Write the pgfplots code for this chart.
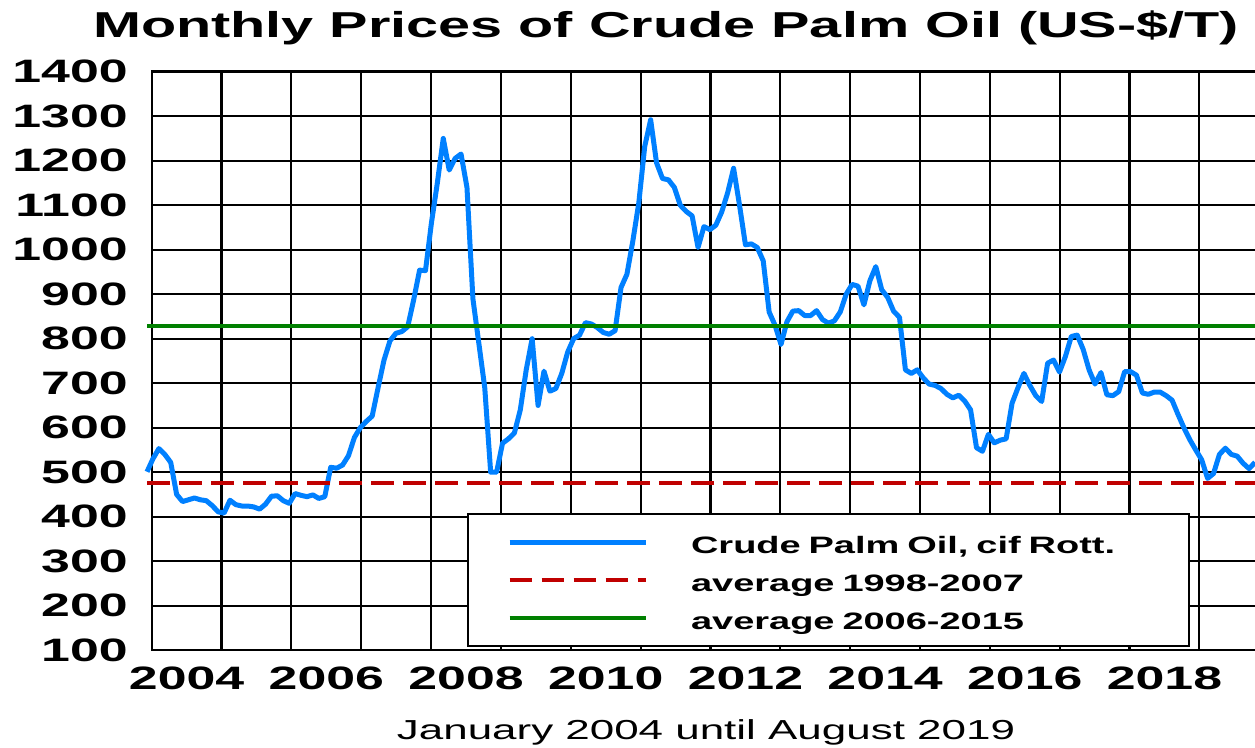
\documentclass[border=0pt]{standalone}
\usepackage{fontspec}
\setmainfont{Liberation Sans}
\newfontfamily\wide{Liberation Sans}[FakeStretch=1.6]
\usepackage{pgfplots}
\usepackage{pgfplotstable}
\pgfplotsset{compat=1.18}
\definecolor{cpoblue}{RGB}{0,128,255}
\definecolor{avgred}{RGB}{192,0,0}
\definecolor{avggreen}{RGB}{0,128,0}

\pgfplotstableread{
i price
0 501
1 530
2 553
3 540
4 522
5 450
6 434
7 438
8 442
9 438
10 436
11 425
12 411
13 408
14 437
15 427
16 424
17 424
18 422
19 417
20 428
21 446
22 447
23 436
24 430
25 452
26 448
27 445
28 449
29 441
30 445
31 511
32 509
33 516
34 537
35 578
36 600
37 614
38 626
39 690
40 752
41 795
42 812
43 816
44 827
45 887
46 954
47 953
48 1060
49 1150
50 1250
51 1179
52 1205
53 1215
54 1140
55 890
56 790
57 690
58 500
59 500
60 565
61 575
62 588
63 640
64 730
65 800
66 650
67 727
68 682
69 688
70 722
71 770
72 800
73 808
74 836
75 833
76 825
77 814
78 810
79 818
80 915
81 945
82 1020
83 1105
84 1232
85 1292
86 1195
87 1160
88 1157
89 1140
90 1100
91 1086
92 1076
93 1005
94 1052
95 1045
96 1055
97 1085
98 1128
99 1183
100 1100
101 1011
102 1013
103 1005
104 975
105 860
106 830
107 787
108 838
109 862
110 863
111 852
112 852
113 863
114 843
115 835
116 840
117 860
118 900
119 922
120 918
121 876
122 930
123 962
124 910
125 893
126 862
127 848
128 730
129 722
130 730
131 712
132 698
133 695
134 688
135 675
136 667
137 673
138 660
139 640
140 555
141 547
142 585
143 566
144 572
145 575
146 655
147 690
148 722
149 695
150 672
151 659
152 745
153 752
154 725
155 760
156 805
157 808
158 776
159 730
160 698
161 724
162 674
163 672
164 681
165 726
166 726
167 718
168 678
169 675
170 680
171 680
172 672
173 662
174 630
175 600
176 573
177 550
178 528
179 486
180 497
181 540
182 554
183 540
184 536
185 520
186 508
187 522
}\cpo

\begin{document}
\begin{tikzpicture}
\begin{axis}[
  at={(113.775pt,73.35pt)}, anchor=south west,
  scale only axis, width=838.125pt, height=433.875pt,
  xmin=0.79, xmax=189.4, ymin=100, ymax=1400,
  clip=false,
  xtick={6.69,30.27,53.84,77.42,101.0,124.57,148.15,171.72},
  xticklabels={2004,2006,2008,2010,2012,2014,2016,2018},
  minor xtick={0.79,12.578,24.366,36.154,47.942,59.73,71.518,83.306,95.094,106.882,118.67,130.458,142.246,154.034,165.822,177.61},
  ytick={100,200,...,1400},
  /pgf/number format/1000 sep={},
  /pgf/number format/assume math mode=true,
  xmajorgrids=false, xminorgrids=true, ymajorgrids=true,
  major grid style={black, line width=1.6pt},
  minor grid style={black, line width=1.6pt},
  axis line style={black, line width=1.8pt},
  major tick length=0pt, minor tick length=0pt,
  tick style={draw=none},
  xticklabel style={font=\wide\bfseries\fontsize{24.3pt}{26pt}\selectfont, anchor=base, yshift=-29.85pt, inner sep=0pt},
  yticklabel style={font=\wide\bfseries\fontsize{24.3pt}{26pt}\selectfont, anchor=east, xshift=-17.78pt, inner sep=0pt},
  title={Monthly Prices of Crude Palm Oil (US-\$/T)},
  title style={at={(axis description cs:0.4602,1.046)}, anchor=base, inner sep=0pt, font=\wide\bfseries\fontsize{27pt}{30pt}\selectfont},
  xlabel={January 2004 until August 2019},
  xlabel style={at={(axis description cs:0.496,-0.1552)}, anchor=base, inner sep=0pt, font=\wide\fontsize{20.6pt}{23pt}\selectfont},
  legend cell align=left,
  legend image code/.code={\draw[#1] (0pt,0pt) -- (102pt,0pt);},
  legend style={at={(axis description cs:0.2822,0.2366)}, anchor=north west,
    draw=black, line width=1.5pt, fill=white,
    inner xsep=29.25pt, inner ysep=7.1pt, column sep=32.25pt, row sep=0.75pt,
    font=\wide\bfseries\fontsize{17.8pt}{20pt}\selectfont,
    nodes={inner sep=0pt, text width=344.25pt, text height=22.5pt, text depth=5.25pt, align=left}},
]
\addplot[cpoblue, line width=3.75pt, line join=round] table[x=i, y=price] {\cpo};
\addlegendentry{Crude Palm Oil, cif Rott.}
\addplot[avgred, line width=3pt, dash pattern=on 17pt off 7pt] coordinates {(0,475) (192,475)};
\addlegendentry{average 1998-2007}
\addplot[avggreen, line width=3pt] coordinates {(0,828) (192,828)};
\addlegendentry{average 2006-2015}
\end{axis}
\pgfresetboundingbox
\useasboundingbox (0pt,0pt) rectangle (941.25pt,561pt);
\end{tikzpicture}
\end{document}
